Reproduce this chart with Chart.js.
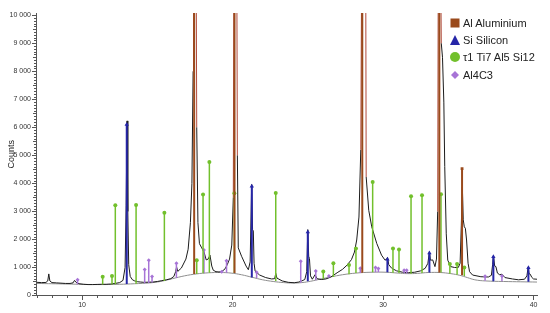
<!DOCTYPE html>
<html>
<head>
<meta charset="utf-8">
<script src="https://cdn.jsdelivr.net/npm/chart.js@4.4.0/dist/chart.umd.min.js"></script>
<style>
  html, body { margin: 0; padding: 0; background: #fff; }
  #wrap { position: relative; width: 550px; height: 313px; font-family: "Liberation Sans", Arial, sans-serif; }
  #legend { position: absolute; left: 449px; top: 14px; font-size: 11px; color: #222; }
  .row { height: 17.4px; display: flex; align-items: center; white-space: nowrap; }
  .row svg { width: 12px; height: 12px; margin-right: 2px; }
</style>
</head>
<body>
<div id="wrap">
  <canvas id="xrd" width="550" height="313"></canvas>
  <div id="legend">
    <div class="row"><svg viewBox="0 0 12 12"><rect x="1.5" y="1.5" width="9" height="9" fill="#9a4a1c"/></svg>Al Aluminium</div>
    <div class="row"><svg viewBox="0 0 12 12"><polygon points="6,1 11,11 1,11" fill="#2626a8"/></svg>Si Silicon</div>
    <div class="row"><svg viewBox="0 0 12 12"><circle cx="6" cy="6" r="5" fill="#72c02c"/></svg>τ1 Ti7 Al5 Si12</div>
    <div class="row"><svg viewBox="0 0 12 12"><polygon points="6,2 10,6 6,10 2,6" fill="#a774d6"/></svg>Al4C3</div>
  </div>
</div>
<script>
// measured pattern (2theta, counts)
const measTheta = [
    7.00, 7.30, 7.60, 7.72, 7.79, 7.86, 8.00, 8.30, 8.60, 8.90, 9.20, 9.40, 9.50, 9.60, 9.80,
    10.10, 10.40, 10.70, 11.00, 11.30, 11.60, 11.90, 12.20, 12.50, 12.72, 12.86, 12.93, 12.99, 13.04, 13.10,
    13.20, 13.35, 13.50, 13.70, 13.90, 14.10, 14.40, 14.70, 15.00, 15.30, 15.60, 15.90, 16.10, 16.22, 16.28,
    16.36, 16.60, 16.90, 17.05, 17.20, 17.30, 17.38, 17.41, 17.57, 17.62, 17.70, 17.80, 17.95, 18.10, 18.25,
    18.38, 18.50, 18.62, 18.72, 18.90, 19.10, 19.30, 19.50, 19.65, 19.80, 19.95, 20.05, 20.10, 20.27, 20.32,
    20.38, 20.60, 20.90, 21.05, 21.17, 21.27, 21.33, 21.38, 21.43, 21.50, 21.80, 22.20, 22.60, 22.80, 22.87,
    22.95, 23.30, 23.70, 24.10, 24.40, 24.60, 24.80, 24.93, 25.00, 25.06, 25.11, 25.18, 25.30, 25.48, 25.62,
    25.90, 26.20, 26.50, 26.70, 27.00, 27.30, 27.60, 27.90, 28.10, 28.25, 28.40, 28.52, 28.60, 28.84, 28.88,
    29.05, 29.25, 29.58, 29.90, 30.12, 30.22, 30.30, 30.38, 30.58, 30.90, 31.30, 31.70, 32.10, 32.50, 32.80,
    32.98, 33.08, 33.15, 33.30, 33.45, 33.55, 33.63, 33.68, 33.80, 33.87, 33.95, 34.04, 34.10, 34.20, 34.30,
    34.50, 34.75, 35.00, 35.12, 35.20, 35.27, 35.33, 35.40, 35.47, 35.55, 35.65, 35.75, 35.95, 36.50, 37.00,
    37.20, 37.28, 37.34, 37.42, 37.50, 37.60, 37.75, 37.90, 38.10, 38.60, 39.00, 39.40, 39.56, 39.64, 39.70,
    39.78, 39.88, 40.00, 40.23
];
const measCounts = [
    470, 460, 465, 520, 770, 520, 460, 450, 440, 430, 430, 450, 540, 470, 420,
    400, 390, 390, 395, 400, 400, 410, 430, 460, 540, 1000, 3200, 6230, 3000, 1100,
    680, 560, 520, 490, 480, 470, 475, 480, 500, 530, 560, 600, 680, 850, 1020,
    860, 980, 1300, 1650, 2600, 4000, 8000, 14000, 14000, 6000, 2600, 1850, 1700, 1560, 1270,
    1300, 1440, 1050, 900, 850, 840, 860, 950, 1100, 1300, 1800, 3500, 14000, 14000, 5000,
    1700, 1400, 1050, 920, 1200, 3960, 2350, 2300, 1150, 870, 730, 640, 590, 600, 790,
    620, 520, 470, 455, 480, 520, 570, 850, 2350, 1400, 1320, 700, 580, 740, 600,
    570, 590, 650, 720, 830, 930, 1080, 1280, 1550, 1980, 2800, 5200, 14000, 14000, 4230,
    3040, 2450, 1860, 1440, 1270, 1280, 1360, 1100, 970, 880, 830, 815, 830, 880, 970,
    1150, 1560, 1260, 1270, 1030, 1300, 3000, 14000, 14000, 9000, 8500, 6900, 4600, 2200, 1260,
    1030, 1000, 1000, 1150, 2500, 3870, 2700, 2450, 2400, 1980, 1150, 850, 730, 670, 660,
    720, 1100, 1400, 1050, 1030, 800, 740, 760, 640, 590, 560, 580, 700, 1000, 780,
    760, 650, 590, 580
];

// fitted background hump
const bgTheta = [7.0, 9.0, 11.0, 12.5, 13.5, 14.5, 15.2, 16.0, 16.8, 17.6, 18.4, 19.2, 19.9, 20.6, 21.3,
    22.0, 22.7, 23.4, 24.0, 24.6, 25.2, 25.8, 26.5, 27.3, 28.2, 29.2, 30.2, 31.0, 31.6, 32.3,
    33.0, 33.8, 34.5, 35.1, 35.6, 36.1, 36.8, 38.0, 40.23];
const bgCounts = [430, 410, 390, 400, 420, 450, 500, 600, 700, 770, 810, 820, 800, 740, 650,
    560, 500, 460, 445, 460, 510, 580, 660, 740, 800, 830, 830, 800, 780, 790,
    820, 820, 780, 720, 640, 560, 520, 500, 480];

// reference sticks: [2theta, top, base]
const alPeaks = [[17.45, 20000, 770], [20.13, 20000, 800], [28.62, 20000, 810], [33.74, 20000, 820], [35.25, 4530, 720]];
const siPeaks = [[12.97, 6100, 410], [21.28, 3900, 640], [25.0, 2270, 505], [30.29, 1290, 830],
    [33.08, 1520, 820], [37.33, 1380, 510], [39.66, 990, 490]];
const tauPeaks = [[11.37, 670, 395], [11.99, 694, 395], [12.21, 3220, 400], [13.59, 3230, 420], [15.47, 2950, 520],
    [17.62, 1260, 770], [18.04, 3600, 790], [18.46, 4760, 810], [20.12, 3650, 800], [22.87, 3660, 520],
    [26.03, 860, 600], [26.7, 1150, 660], [27.74, 1090, 760], [28.2, 1680, 800], [29.31, 4050, 830],
    [30.66, 1680, 815], [31.06, 1645, 800], [31.86, 3540, 780], [32.59, 3580, 800], [33.85, 3610, 820],
    [34.44, 1120, 780], [34.92, 1120, 740], [35.4, 1000, 700]];
const al4c3Peaks = [[9.7, 560, 405], [14.16, 930, 440], [14.43, 1260, 450], [14.65, 680, 460], [16.27, 1150, 620],
    [18.1, 1620, 790], [19.28, 850, 815], [19.6, 1240, 810], [21.6, 830, 620], [24.53, 1220, 455],
    [25.53, 870, 540], [26.4, 700, 650], [28.49, 970, 805], [29.5, 1000, 830], [29.69, 960, 830],
    [31.4, 900, 790], [31.57, 900, 785], [36.78, 690, 530], [37.9, 700, 510]];

// axis ticks
const xMajor = [10, 20, 30, 40];
const yMajor = [0, 1000, 2000, 3000, 4000, 5000, 6000, 7000, 8000, 9000, 10000];

const colors = { al: '#9a4a1c', si: '#2626a8', tau: '#72c02c', al4c3: '#a774d6' };

const toPoints = (xs, ys) => xs.map((x, i) => ({ x, y: ys[i] }));

const sticks = (peaks) => {
    const out = [];
    peaks.forEach(([pos, top, base]) => {
        out.push({ x: pos, y: base });
        out.push({ x: pos, y: top, tip: true });
        out.push({ x: pos, y: null });
    });
    return out;
};

const stickSet = (label, peaks, color, style, radius, width) => ({
    label,
    data: sticks(peaks),
    borderColor: color,
    backgroundColor: color,
    borderWidth: width,
    pointStyle: style,
    pointRadius: (c) => (c.raw && c.raw.tip ? radius : 0),
    pointBorderWidth: 0,
    spanGaps: false,
});

const fmt = (v) => String(v).replace(/\B(?=(\d{3})+(?!\d))/g, ' ');

const minorTicks = {
    id: 'minorTicks',
    afterDraw(chart) {
        const { ctx, chartArea, scales: { x, y } } = chart;
        ctx.save();
        ctx.strokeStyle = '#555';
        ctx.lineWidth = 1;
        ctx.beginPath();
        for (let v = 7; v <= 40; v++) {
            if (v % 10 === 0) continue;
            const px = Math.round(x.getPixelForValue(v)) + 0.5;
            ctx.moveTo(px, chartArea.bottom);
            ctx.lineTo(px, chartArea.bottom + 2.5);
        }
        for (let v = 100; v < 10000; v += 100) {
            if (v % 1000 === 0) continue;
            const py = Math.round(y.getPixelForValue(v)) + 0.5;
            ctx.moveTo(chartArea.left, py);
            ctx.lineTo(chartArea.left - (v % 500 === 0 ? 3 : 2), py);
        }
        ctx.stroke();
        ctx.restore();
    }
};

const tickFont = { family: '"Liberation Sans", Arial, sans-serif', size: 7 };

new Chart(document.getElementById('xrd'), {
    type: 'line',
    data: {
        datasets: [
            stickSet('Al Aluminium', alPeaks, colors.al, 'rect', 2, 2),
            stickSet('Si Silicon', siPeaks, colors.si, 'triangle', 2.5, 2),
            stickSet('τ1 Ti7 Al5 Si12', tauPeaks, colors.tau, 'circle', 2, 1.5),
            stickSet('Al4C3', al4c3Peaks, colors.al4c3, 'rectRot', 2, 1.5),
            {
                label: 'measured',
                data: toPoints(measTheta, measCounts),
                borderColor: '#1c1c1c',
                borderWidth: 1,
                pointRadius: 0,
                tension: 0,
                segment: {
                    borderColor: (c) => (c.p0.parsed.y > 10080 || c.p1.parsed.y > 10080 ? '#b04a3c' : undefined),
                },
            },
            {
                label: 'background',
                data: toPoints(bgTheta, bgCounts),
                borderColor: '#8e8e8e',
                borderWidth: 1,
                pointRadius: 0,
                tension: 0.4,
            },
        ]
    },
    options: {
        responsive: false,
        animation: false,
        devicePixelRatio: 1,
        layout: { padding: { top: 13, right: 13, left: 0, bottom: 0 } },
        plugins: { legend: { display: false }, tooltip: { enabled: false } },
        scales: {
            x: {
                type: 'linear',
                min: 6.94,
                max: 40.23,
                afterFit: (s) => { s.height = 17.5; },
                afterBuildTicks: (s) => { s.ticks = xMajor.map((value) => ({ value })); },
                border: { display: true, color: '#555', width: 1 },
                grid: { drawOnChartArea: false, drawTicks: true, tickLength: 4.5, tickColor: '#555' },
                ticks: { font: tickFont, color: '#333', padding: 1, maxRotation: 0 },
            },
            y: {
                min: 0,
                max: 10080,
                afterFit: (s) => { s.width = 36; },
                afterBuildTicks: (s) => { s.ticks = yMajor.map((value) => ({ value })); },
                border: { display: true, color: '#555', width: 1 },
                grid: { drawOnChartArea: false, drawTicks: true, tickLength: 4, tickColor: '#555' },
                ticks: { font: tickFont, color: '#333', padding: 1, callback: fmt },
                title: {
                    display: true,
                    text: 'Counts',
                    font: { family: '"Liberation Sans", Arial, sans-serif', size: 9 },
                    color: '#222',
                    padding: { top: 6, bottom: 0 },
                },
            },
        },
    },
    plugins: [minorTicks],
});
</script>
</body>
</html>
